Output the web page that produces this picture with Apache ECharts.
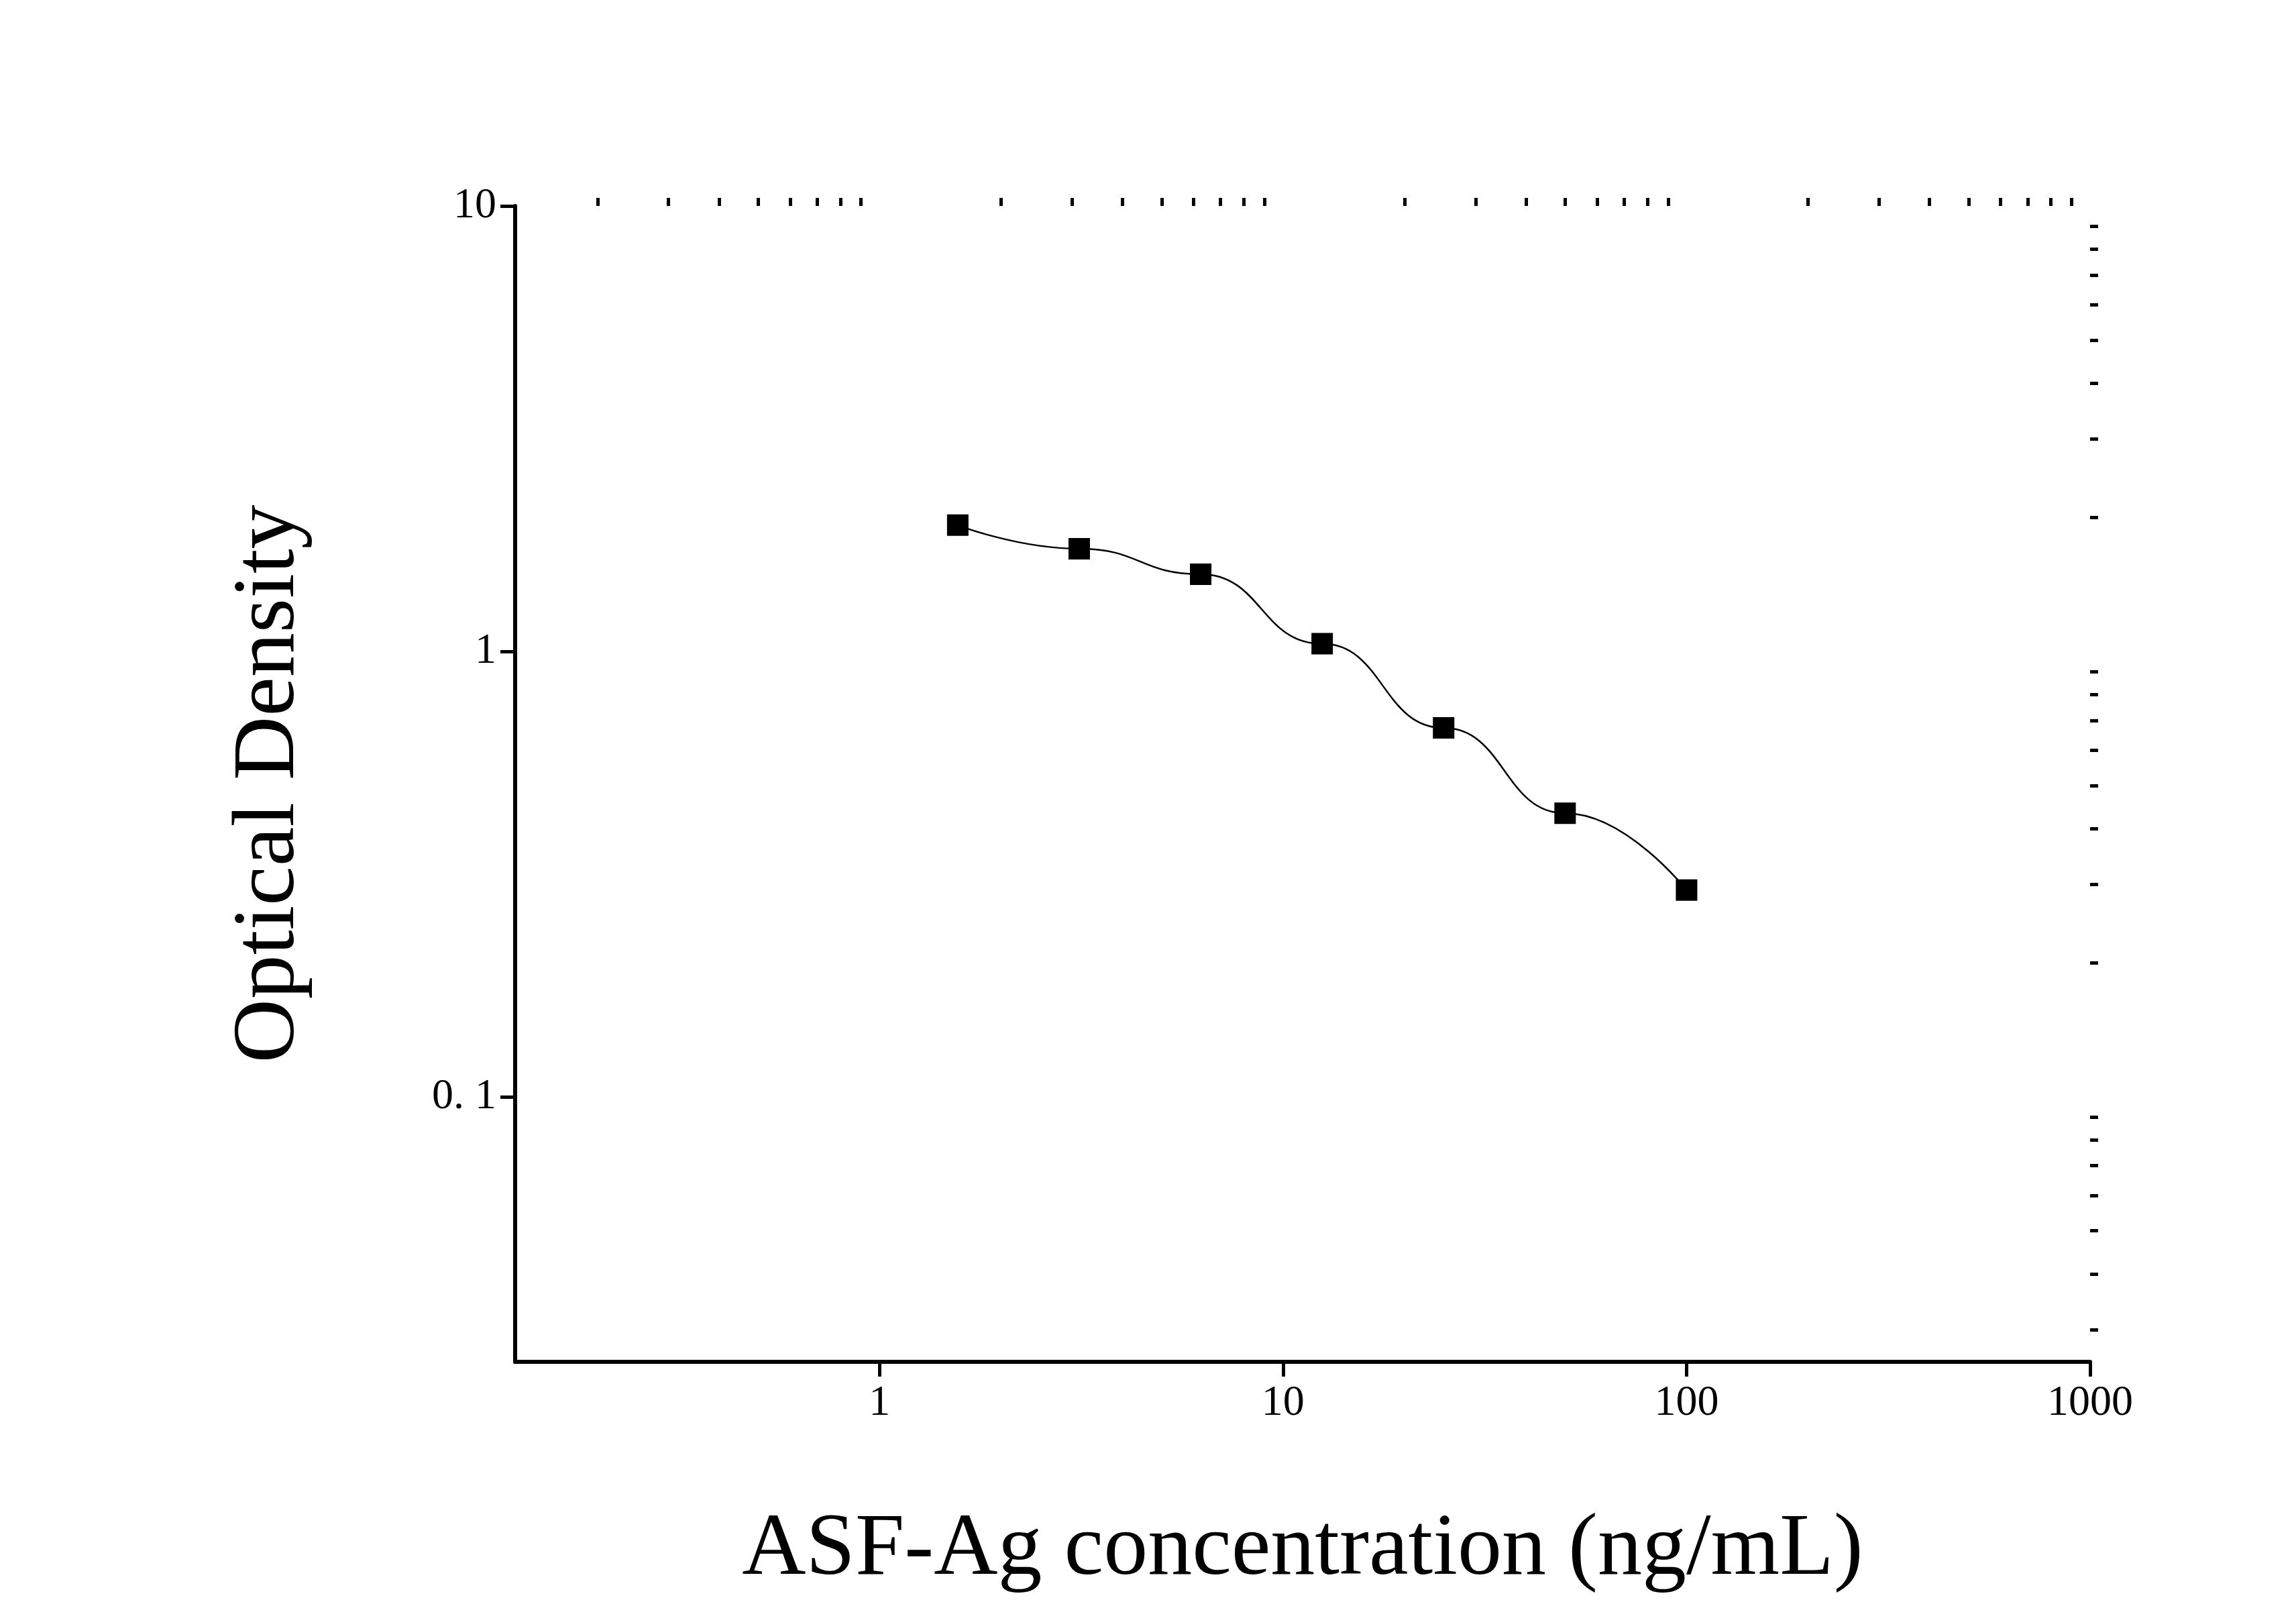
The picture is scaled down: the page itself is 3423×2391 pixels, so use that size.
<!DOCTYPE html>
<html><head><meta charset="utf-8">
<script src="https://cdn.jsdelivr.net/npm/echarts@6/dist/echarts.min.js"></script>
<style>html,body{margin:0;padding:0;background:#fff}#c{width:3423px;height:2391px}</style>
</head><body><div id="c"></div>
<script>
const concentration = [1.5625, 3.125, 6.25, 12.5, 25, 50, 100];
const opticalDensity = [1.92, 1.70, 1.49, 1.04, 0.673, 0.433, 0.291];
const xMajorTicks = [1, 10, 100, 1000];
const xMajorLabels = ['1', '10', '100', '1000'];
const yMajorTicks = [0.1, 1, 10];
const yMajorLabels = ['0. 1', '1', '10'];
const xMin = 0.125, xMax = 1000, yMin = 0.0254, yMax = 10;

const L = Math.log10;
function minors(lo, hi){const r=[];for(let d=Math.floor(L(lo));d<Math.ceil(L(hi));d++){for(let k=2;k<=9;k++){const v=k*Math.pow(10,d);if(v>=lo&&v<=hi)r.push(L(v));}}return r;}
const font='"Liberation Serif", "Times New Roman", serif';
const axLine={show:true,onZero:false,lineStyle:{color:'#000',width:6}};
function xAxis(major){return {type:'value',min:L(xMin),max:L(xMax),splitLine:{show:false},
 axisLine:major?axLine:{show:false,onZero:false},
 axisTick:{show:true,inside:false,length:major?22:12,lineStyle:{color:'#000',width:5},
  customValues: major?xMajorTicks.map(L):minors(xMin,xMax)},
 axisLabel:{show:major,customValues:xMajorTicks.map(L),margin:30,fontFamily:font,fontSize:64,color:'#000',
  formatter:v=>{const i=xMajorTicks.findIndex(t=>Math.abs(L(t)-v)<1e-6);return i>=0?xMajorLabels[i]:'';}},
 name:major?'ASF-Ag concentration (ng/mL)':'',nameLocation:'middle',nameGap:215,
 nameTextStyle:{fontFamily:font,fontSize:132,color:'#000'}};}
function yAxis(major){return {type:'value',min:L(yMin),max:L(yMax),splitLine:{show:false},
 axisLine:major?axLine:{show:false,onZero:false},
 axisTick:{show:true,inside:false,length:major?22:12,lineStyle:{color:'#000',width:5},
  customValues: major?yMajorTicks.map(L):minors(yMin,yMax)},
 axisLabel:{show:major,customValues:yMajorTicks.map(L),margin:28,fontFamily:font,fontSize:64,color:'#000',
  formatter:v=>{const i=yMajorTicks.findIndex(t=>Math.abs(L(t)-v)<1e-6);return i>=0?yMajorLabels[i]:'';}},
 name:major?'Optical Density':'',nameLocation:'middle',nameGap:300,
 nameTextStyle:{fontFamily:font,fontSize:132,color:'#000'}};}
const chart=echarts.init(document.getElementById('c'));
chart.setOption({
 backgroundColor:'#fff',animation:false,
 grid:{left:768,right:307,top:307,bottom:361},
 xAxis:[xAxis(true),xAxis(false)],
 yAxis:[yAxis(true),yAxis(false)],
 series:[{type:'line',xAxisIndex:0,yAxisIndex:0,smooth:0.5,smoothMonotone:'x',
  data:concentration.map((c,i)=>[L(c),L(opticalDensity[i])]),
  symbol:'rect',symbolSize:32,itemStyle:{color:'#000'},lineStyle:{color:'#000',width:2.5}}]
});
</script></body></html>
